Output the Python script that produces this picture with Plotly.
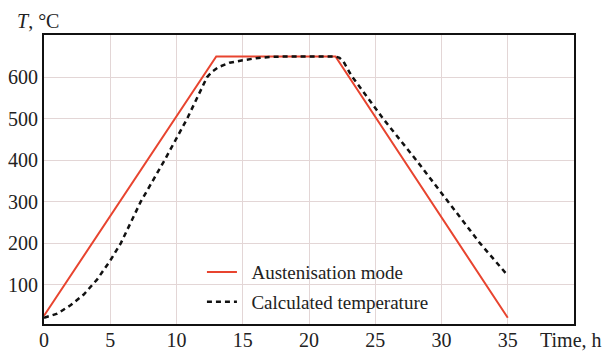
import plotly.graph_objects as go

# Austenisation mode (red)
mode_t = [0, 13, 22, 35]
mode_T = [25, 650, 650, 20]

# Calculated temperature (black dashed)
calc_t = [0, 1, 2, 3, 4, 5, 5.8, 7.3, 9.1, 10.8, 12.3, 12.7, 13.2, 14, 15, 16, 17, 18, 22,
          22.3, 22.6, 22.9, 23.2, 25.6, 28.1, 30.5, 32.9, 35]
calc_T = [20, 30, 50, 76, 112, 158, 200, 300, 400, 500, 600, 614, 625, 635, 641, 646, 649, 650, 650,
          647, 638, 622, 604, 500, 400, 300, 200, 122]

x_ticks = [0, 5, 10, 15, 20, 25, 30, 35]
y_ticks = [100, 200, 300, 400, 500, 600]

FONT = "Liberation Serif, Times New Roman, serif"
TXT = "#222222"
GRID = "#e3d6d6"

fig = go.Figure()
fig.add_trace(go.Scatter(x=mode_t, y=mode_T, mode="lines", name="\u00a0\u00a0Austenisation mode",
                         line=dict(color="#e8442f", width=2), legendgroup="a"))
fig.add_trace(go.Scatter(x=calc_t, y=calc_T, mode="lines", name="\u00a0\u00a0Calculated temperature",
                         line=dict(color="#111111", width=2.5, dash="5px,4px"),
                         legendgroup="b"))

fig.update_layout(
    width=605, height=352,
    margin=dict(l=44, r=31, t=35, b=28),
    paper_bgcolor="white", plot_bgcolor="white",
    font=dict(family=FONT, size=19, color=TXT),
    showlegend=True,
    legend=dict(x=0.298, y=0.245, xanchor="left", yanchor="top",
                bgcolor="rgba(0,0,0,0)", font=dict(family=FONT, size=19, color=TXT),
                tracegroupgap=2),
    xaxis=dict(range=[0, 40], tickvals=x_ticks, ticktext=[str(v) for v in x_ticks],
               showgrid=True, gridcolor=GRID, gridwidth=1, automargin=False,
               showline=True, linecolor="#111111", linewidth=2, mirror=True,
               ticks="", zeroline=False, ticklabelstandoff=-3,
               tickfont=dict(size=20, family=FONT, color=TXT)),
    yaxis=dict(range=[5, 702], tickvals=y_ticks, ticktext=[str(v) for v in y_ticks],
               showgrid=True, gridcolor=GRID, gridwidth=1, automargin=False,
               showline=True, linecolor="#111111", linewidth=2, mirror=True,
               ticks="", zeroline=False, tickfont=dict(size=20, family=FONT, color=TXT)),
    annotations=[
        dict(text="<i>T</i>, °C", xref="paper", yref="paper", x=-0.0547, y=1.0, yshift=1,
             xanchor="left", yanchor="bottom", showarrow=False, font=dict(size=20, family=FONT, color=TXT)),
        dict(text="Time, h", xref="paper", yref="paper", x=0.933, y=0, yshift=-3,
             xanchor="left", yanchor="top", showarrow=False, font=dict(size=20, family=FONT, color=TXT)),
    ],
)

fig.write_html("out.html")
